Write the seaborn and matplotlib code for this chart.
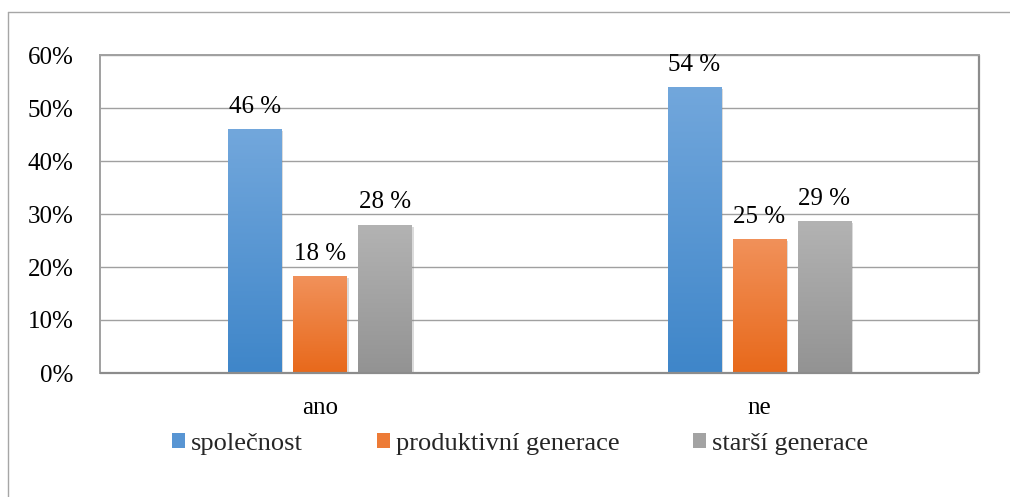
import numpy as np
import pandas as pd
import seaborn as sns
import matplotlib.pyplot as plt
from matplotlib.colors import LinearSegmentedColormap
from matplotlib.lines import Line2D
from matplotlib.patches import Patch
import matplotlib.patheffects as pe

answers = ["ano", "ne"]
groups = ["společnost", "produktivní generace", "starší generace"]
spolecnost = [46.0, 54.0]
produktivni = [18.3, 25.3]
starsi = [28.0, 28.7]

# gradient colours per group (top, bottom)
grad_colors = [
    ("#72a7dc", "#3f86c9"),
    ("#f1915a", "#e8691b"),
    ("#b3b3b3", "#939393"),
]
legend_colors = ["#5895d3", "#ed7b36", "#a3a3a3"]

rows = []
for g, vals in zip(groups, [spolecnost, produktivni, starsi]):
    for a, v in zip(answers, vals):
        rows.append({"odpoved": a, "skupina": g, "podil": v})
df = pd.DataFrame(rows)

sns.set_style("white")
plt.rcParams["font.family"] = ["Liberation Serif", "DejaVu Serif"]
FS = 18

fig = plt.figure(figsize=(10.1, 4.97), dpi=100)
ax = fig.add_axes([100 / 1010, 1 - 373 / 497, 879 / 1010, 318 / 497])

sns.barplot(data=df, x="odpoved", y="podil", hue="skupina", hue_order=groups,
            order=answers, width=0.444, gap=0.18, legend=False, ax=ax,
            palette=[c[1] for c in grad_colors], linewidth=0)

for container, (top, bottom) in zip(ax.containers, grad_colors):
    cmap = LinearSegmentedColormap.from_list("g", [bottom, top])
    for patch in container.patches:
        x0, y0 = patch.get_x(), patch.get_y()
        w, h = patch.get_width(), patch.get_height()
        patch.set_path_effects([pe.SimplePatchShadow(offset=(1.5, -1.5), shadow_rgbFace="#888888", alpha=0.3),
                                pe.Normal()])
        grad = np.linspace(0, 1, 100).reshape(-1, 1)
        im = ax.imshow(grad, extent=[x0, x0 + w, y0, y0 + h], origin="lower",
                       aspect="auto", cmap=cmap, zorder=patch.get_zorder() + 0.1)
        im.set_clip_path(patch)
    ax.bar_label(container, labels=[f"{round(p.get_height())} %" for p in container.patches],
                 padding=8, fontsize=FS, color="black")

ax.set_xlim(-0.5, 1.5)
ax.set_ylim(0, 60)
ax.set_yticks(np.arange(0, 61, 10))
ax.set_yticklabels([f"{t}%" for t in range(0, 61, 10)])
ax.set_xlabel("")
ax.set_ylabel("")
ax.tick_params(axis="both", length=0, labelsize=FS, colors="black")
ax.tick_params(axis="x", pad=17)
ax.tick_params(axis="y", pad=19)
ax.grid(axis="y", color="#a0a0a0", linewidth=1)
ax.set_axisbelow(True)
for side in ["top", "left"]:
    ax.spines[side].set_color("#a0a0a0")
    ax.spines[side].set_linewidth(1.4)
for side in ["right", "bottom"]:
    ax.spines[side].set_color("#8c8c8c")
    ax.spines[side].set_linewidth(1.6)
    ax.spines[side].set_capstyle("butt")

handles = [Patch(facecolor=c, edgecolor="none") for c in legend_colors]
fig.legend(handles, groups, loc="center left", bbox_to_anchor=(172 / 1010, 1 - 444 / 497),
           ncol=3, frameon=False, fontsize=19, handlelength=0.49, handleheight=0.47,
           handletextpad=0.23, columnspacing=2.8, borderpad=0, borderaxespad=0)

# outer chart border (left and top only visible)
fig.add_artist(Line2D([8 / 1010, 8 / 1010], [0, 1 - 12 / 497], color="#a6a6a6", linewidth=1))
fig.add_artist(Line2D([8 / 1010, 1], [1 - 12 / 497, 1 - 12 / 497], color="#a6a6a6", linewidth=1))

fig.savefig("out.png", dpi=100)
